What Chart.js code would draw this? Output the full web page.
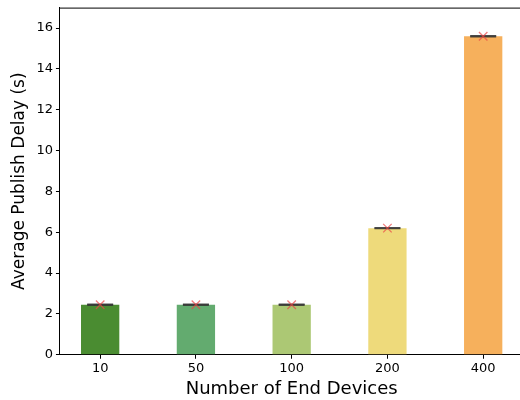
<!DOCTYPE html>
<html>
<head>
<meta charset="utf-8">
<script src="https://cdn.jsdelivr.net/npm/chart.js@4.4.1/dist/chart.umd.min.js"></script>
<style>
  html, body { margin: 0; padding: 0; background: #fff; overflow: hidden; }
  #delayChart { display: block; margin-top: -7px; }
</style>
</head>
<body>
<canvas id="delayChart" width="538" height="407"></canvas>
<script>
// data
const deviceCounts = ['10', '50', '100', '200', '400'];
const meanDelay = [2.45, 2.45, 2.45, 6.2, 15.6];
const delayErr = [0.02, 0.02, 0.02, 0.02, 0.02];
const barColors = ['#4a8c31', '#63ab6f', '#acc874', '#eeda7b', '#f6b05c'];
const yTicks = [0, 2, 4, 6, 8, 10, 12, 14, 16];

const font = 'DejaVu Sans';

// top spine (matplotlib style frame, right side is cropped off)
const topSpine = {
  id: 'topSpine',
  afterDraw(chart) {
    const { ctx, chartArea } = chart;
    ctx.save();
    ctx.strokeStyle = '#000';
    ctx.lineWidth = 1;
    ctx.beginPath();
    ctx.moveTo(chartArea.left, chartArea.top + 0.5);
    ctx.lineTo(chartArea.right, chartArea.top + 0.5);
    ctx.stroke();
    ctx.restore();
  }
};

const capPoints = [];
meanDelay.forEach((v, i) => {
  capPoints.push({ x: i, y: v - delayErr[i] });
  capPoints.push({ x: i, y: v + delayErr[i] });
});

const ctx = document.getElementById('delayChart').getContext('2d');
new Chart(ctx, {
  type: 'bar',
  data: {
    datasets: [
      {
        type: 'scatter',
        label: 'error',
        data: capPoints,
        pointStyle: 'line',
        pointRadius: 13,
        borderWidth: 1.6,
        borderColor: 'rgba(50,50,50,0.85)',
        order: 1
      },
      {
        type: 'scatter',
        label: 'mean',
        data: meanDelay.map((v, i) => ({ x: i, y: v })),
        pointStyle: 'crossRot',
        pointRadius: 6,
        borderWidth: 1.3,
        borderColor: 'rgba(235,70,70,0.7)',
        order: 0
      },
      {
        label: 'delay',
        data: meanDelay.map((v, i) => ({ x: i, y: v })),
        backgroundColor: barColors,
        borderWidth: 0,
        barPercentage: 0.4,
        categoryPercentage: 1,
        order: 2
      }
    ]
  },
  options: {
    responsive: false,
    animation: false,
    layout: { padding: { left: 9, top: 0, right: 0, bottom: 0 } },
    plugins: {
      legend: { display: false },
      tooltip: { enabled: false }
    },
    scales: {
      x: {
        type: 'linear',
        offset: false,
        min: -0.42,
        max: 4.42,
        afterBuildTicks: axis => {
          axis.ticks = deviceCounts.map((c, i) => ({ value: i }));
        },
        ticks: {
          callback: v => deviceCounts[v],
          color: '#000',
          font: { family: font, size: 13, lineHeight: 1.05 },
          padding: 3,
          maxRotation: 0
        },
        grid: { offset: false, drawOnChartArea: false, drawTicks: true, tickLength: 4, color: '#000' },
        border: { color: '#000', width: 1 },
        title: {
          display: true,
          text: 'Number of End Devices',
          color: '#000',
          font: { family: font, size: 18 },
          padding: { top: 0, bottom: 0 }
        }
      },
      y: {
        min: 0,
        max: 17,
        afterBuildTicks: axis => {
          axis.ticks = yTicks.map(v => ({ value: v }));
        },
        ticks: {
          color: '#000',
          font: { family: font, size: 13 },
          padding: 3
        },
        grid: { drawOnChartArea: false, drawTicks: true, tickLength: 4, color: '#000' },
        border: { color: '#000', width: 1 },
        title: {
          display: true,
          text: 'Average Publish Delay (s)',
          color: '#000',
          font: { family: font, size: 17 },
          padding: { top: 0, bottom: 4 }
        }
      }
    }
  },
  plugins: [topSpine]
});
</script>
</body>
</html>
